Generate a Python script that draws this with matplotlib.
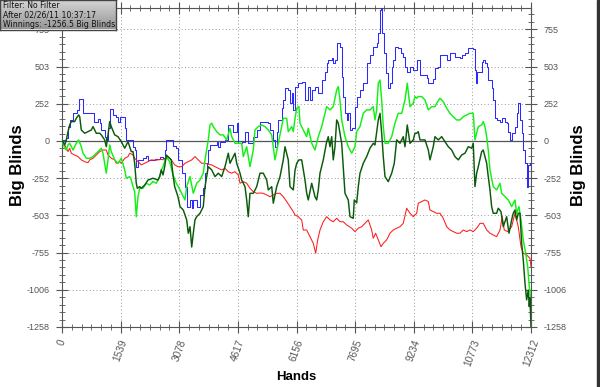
import numpy as np
import matplotlib
matplotlib.use("Agg")
import matplotlib.pyplot as plt
from matplotlib.ticker import FixedLocator, MultipleLocator
from matplotlib.patches import Rectangle

# ---- data (hands, big blinds) ----
blue_h = [0, 26, 113, 158, 202, 289, 381, 420, 446, 525, 551, 683, 814, 840, 945, 990, 1032, 1121, 1163, 1208,
          1252, 1339, 1425, 1470, 1523, 1601, 1646, 1688, 1785, 1864, 1916, 1950, 1995, 2126, 2213, 2258, 2433,
          2565, 2651, 2696, 2738, 2827, 2914, 3000, 3045, 3098, 3142, 3229, 3273, 3360, 3405, 3447, 3536, 3623,
          3709, 3754, 3798, 3840, 3885, 4061, 4103, 4148, 4279, 4365, 4455, 4496, 4586, 4628, 4717, 4804, 4890,
          4980, 5022, 5111, 5198, 5329, 5415, 5460, 5547, 5591, 5636, 5678, 5767, 5809, 5854, 5940, 5985, 6030,
          6072, 6116, 6203, 6292, 6379, 6465, 6510, 6555, 6641, 6728, 6817, 6904, 6948, 6990, 7080, 7121, 7166,
          7211, 7298, 7342, 7384, 7429, 7473, 7515, 7560, 7620, 7691, 7736, 7823, 7909, 7998, 8085, 8171, 8261,
          8303, 8348, 8374, 8408, 8460, 8497, 8565, 8610, 8655, 8697, 8741, 8828, 8899, 8959, 9004, 9048, 9135,
          9221, 9311, 9353, 9398, 9574, 9616, 9746, 9791, 9879, 9923, 10054, 10099, 10185, 10316, 10448, 10492,
          10579, 10665, 10796, 10841, 10868, 10886, 10973, 11017, 11059, 11104, 11148, 11190, 11279, 11321, 11366,
          11410, 11498, 11542, 11629, 11673, 11715, 11760, 11804, 11891, 11936, 11962, 12023, 12067, 12109, 12154,
          12198, 12240, 12285, 12312]
blue_v = [0, 7, 18, 97, 142, 189, 210, 210, 282, 282, 189, 191, 191, 131, 149, 122, 74, 29, 7, 88,
          214, 176, 164, 131, 164, 164, 88, 7, 7, -39, -61, -174, -128, -115, -101, -128, -124,
          -106, -117, -61, 7, 7, -34, -49, -128, -128, -216, -309, -444, -399, -453, -399, -444, -365,
          -318, -216, -149, -61, -27, -5, -39, -5, 7, 108, 108, 63, 120, -16, -5, 63, -16,
          -16, 29, 74, 131, 131, 120, 74, 7, -39, 63, 142, 221, 277, 356, 345, 255, 323,
          210, 367, 390, 401, 277, 367, 277, 345, 367, 323, 412, 469, 525, 548, 559, 525, 548,
          661, 638, 435, 300, 187, 142, 187, 74, 86, 232, 300, 345, 390, 525, 582, 638, 661,
          728, 886, 897, 728, 593, 458, 356, 390, 502, 548, 638, 627, 593, 570, 502, 469, 502,
          480, 548, 548, 446, 426, 390, 417, 492, 502, 582, 582, 548, 593, 566, 559, 582,
          593, 627, 620, 480, 390, 469, 469, 536, 548, 525, 502, 412, 356, 277, 153,
          142, 131, 153, 131, 120, 63, 7, 52, 97, 187, 255, 142, 52, -61, -151,
          -309, -162, -151, -399]

dark_h = [0, 26, 71, 113, 158, 202, 244, 333, 375, 438, 465, 507, 596, 683, 769, 814, 900, 990, 1032, 1121,
          1163, 1208, 1252, 1294, 1383, 1470, 1557, 1646, 1733, 1777, 1819, 1864, 1908, 1950, 1977, 2040, 2082,
          2171, 2258, 2389, 2520, 2565, 2607, 2651, 2696, 2738, 2783, 2869, 2914, 2958, 3045, 3098, 3184, 3273,
          3315, 3360, 3405, 3447, 3491, 3536, 3623, 3709, 3754, 3840, 3930, 4016, 4103, 4192, 4279, 4365, 4410,
          4496, 4541, 4586, 4673, 4717, 4804, 4848, 4890, 4935, 5022, 5111, 5198, 5284, 5374, 5415, 5505, 5547,
          5636, 5723, 5809, 5854, 5940, 5985, 6072, 6116, 6161, 6221, 6292, 6379, 6423, 6465, 6555, 6641, 6686,
          6728, 6773, 6859, 6948, 6990, 7035, 7080, 7121, 7166, 7211, 7253, 7342, 7384, 7429, 7515, 7560, 7646,
          7673, 7736, 7778, 7823, 7909, 7998, 8085, 8171, 8216, 8303, 8348, 8392, 8434, 8479, 8565, 8655, 8723,
          8786, 8873, 8959, 9004, 9064, 9135, 9221, 9266, 9311, 9353, 9398, 9529, 9616, 9660, 9746, 9791, 9879,
          9967, 10054, 10141, 10230, 10316, 10403, 10492, 10579, 10665, 10755, 10796, 10841, 10886, 10928, 11017,
          11059, 11104, 11148, 11190, 11235, 11279, 11321, 11410, 11452, 11524, 11584, 11673, 11734, 11804, 11846,
          11891, 11936, 11978, 12023, 12067, 12109, 12154, 12198, 12240, 12267, 12285, 12312]
dark_v = [0, -5, -27, 7, 63, 108, 131, 131, 153, 176, 164, 74, 52, 63, 74, 97, 52, 52, 41, 7,
          -39, 41, 131, 97, 41, 29, -5, -49, -5, -39, -72, -72, -151, -286, -320, -309, -320,
          -298, -264, -252, -264, -241, -196, -230, -174, -95, -106, -128, -230, -309, -377, -444, -467, -534,
          -624, -580, -717, -624, -534, -512, -489, -444, -309, -174, -196, -241, -218, -241, -174, -83, -151,
          -106, -83, -151, -218, -264, -309, -399, -512, -354, -354, -309, -218, -218, -264, -331, -309, -421,
          -309, -241, -128, -39, -128, -309, -331, -200, -151, -128, -128, -264, -352, -399, -286, -377, -399,
          -331, -218, -128, -5, 29, -39, 29, -128, -39, 142, 120, -16, -174, -354, -399, -512, -523,
          -399, -419, -309, -218, -151, -106, -49, -16, -27, 142, 187, 52, -106, -241, -275, -218, -151,
          7, -16, 29, -39, 108, -16, 7, 52, 52, 63, 7, 7, -61, -128, -39, 29, 7,
          29, -5, -39, -61, -106, -128, -95, -83, -39, -49, -16, -309, -218, -174, -72,
          -61, -106, -151, -241, -331, -444, -489, -489, -455, -478, -580, -512, -624, -534, -489,
          -467, -534, -489, -489, -692, -805, -962, -1075, -1008, -1120, -1060, -1256.5]

lime_h = [0, 26, 71, 113, 158, 202, 289, 375, 438, 507, 551, 638, 727, 814, 900, 990, 1032, 1076, 1121, 1163,
          1208, 1252, 1294, 1383, 1470, 1557, 1646, 1688, 1777, 1819, 1864, 1908, 1950, 1995, 2040, 2126, 2213,
          2302, 2389, 2475, 2565, 2607, 2651, 2738, 2827, 2914, 3000, 3053, 3142, 3229, 3273, 3360, 3447, 3536,
          3623, 3709, 3754, 3798, 3840, 3885, 3930, 3972, 4061, 4148, 4234, 4323, 4410, 4455, 4541, 4628, 4717,
          4759, 4848, 4935, 5022, 5066, 5153, 5242, 5329, 5415, 5505, 5547, 5591, 5678, 5767, 5809, 5899, 5940,
          6030, 6072, 6116, 6161, 6221, 6248, 6334, 6423, 6465, 6555, 6641, 6728, 6817, 6904, 6948, 7035, 7121,
          7211, 7253, 7298, 7342, 7429, 7515, 7605, 7691, 7736, 7823, 7909, 7998, 8085, 8171, 8216, 8261, 8303,
          8348, 8392, 8434, 8479, 8565, 8655, 8741, 8828, 8917, 9004, 9064, 9135, 9221, 9266, 9311, 9353, 9442,
          9529, 9616, 9705, 9791, 9836, 9923, 10009, 10099, 10185, 10271, 10361, 10448, 10534, 10624, 10710,
          10796, 10841, 10886, 10928, 11017, 11059, 11104, 11148, 11190, 11235, 11321, 11410, 11498, 11542, 11629,
          11715, 11804, 11891, 11936, 11996, 12049, 12109, 12172, 12225, 12267, 12312]
lime_v = [0, -16, -49, -61, -27, -16, -61, -16, 7, -39, -83, -117, -117, -106, -83, -61, -49, -83, -151, -218,
          -128, -27, -72, -128, -151, -117, -196, -252, -241, -264, -309, -343, -512, -377, -320, -320, -286,
          -298, -275, -286, -241, -196, -174, -106, -140, -230, -286, -309, -354, -399, -309, -241, -354, -286,
          -264, -218, -128, -61, 7, 108, 120, 97, 63, 41, 41, 7, 86, 29, -16, -16, -16,
          -106, -39, -174, -61, 74, 97, 108, 97, 74, 41, -39, -128, -16, 97, 153, 153, 63,
          97, 63, 150, 221, 232, 120, 74, 29, 86, -16, -61, 29, 97, 187, 232, 210, 232,
          345, 367, 277, 142, 29, -39, -83, -39, 63, 97, 187, 210, 210, 232, 142, 210, 390,
          412, 277, 97, -16, -16, 29, 120, 187, 187, 277, 390, 232, 255, 300, 289, 300, 300,
          277, 210, 232, 232, 255, 289, 266, 221, 187, 164, 142, 142, 164, 176, 187,
          187, 7, 52, 97, 108, 131, 97, 29, -61, -196, -309, -331, -286, -354, -377,
          -399, -444, -399, -489, -444, -534, -669, -759, -850, -985, -1075]

red_h = [0, 26, 71, 113, 158, 202, 244, 333, 420, 507, 596, 683, 727, 814, 900, 990, 1076, 1163, 1208, 1294,
         1383, 1425, 1515, 1557, 1646, 1733, 1777, 1864, 1908, 1995, 2082, 2171, 2258, 2344, 2433, 2520, 2607,
         2696, 2783, 2869, 2958, 3045, 3142, 3229, 3315, 3405, 3491, 3578, 3667, 3754, 3840, 3930, 4016, 4103,
         4192, 4279, 4365, 4455, 4541, 4628, 4673, 4759, 4848, 4935, 5022, 5111, 5198, 5284, 5374, 5460, 5547,
         5636, 5723, 5809, 5899, 5985, 6072, 6116, 6203, 6292, 6334, 6423, 6510, 6596, 6660, 6712, 6773, 6859,
         6948, 7035, 7121, 7211, 7298, 7384, 7473, 7605, 7691, 7778, 7867, 7954, 8040, 8129, 8171, 8234, 8303,
         8374, 8434, 8523, 8610, 8697, 8786, 8873, 8959, 9048, 9135, 9221, 9311, 9353, 9442, 9529, 9616, 9660,
         9746, 9836, 9923, 10009, 10099, 10185, 10271, 10361, 10448, 10534, 10624, 10710, 10796, 10886, 10973,
         11059, 11148, 11235, 11321, 11410, 11498, 11558, 11610, 11699, 11804, 11891, 11978, 12049, 12109, 12198,
         12285, 12312]
red_v = [0, -5, -27, -49, -72, -49, -83, -95, -106, -128, -140, -147, -128, -117, -95, -72, -61, -61, -95, -117,
         -128, -151, -140, -151, -117, -106, -83, -95, -117, -140, -162, -151, -140, -128, -130, -128, -125,
         -128, -106, -128, -162, -174, -174, -151, -140, -128, -106, -128, -151, -151, -158, -162, -174, -185,
         -196, -185, -208, -218, -208, -230, -286, -275, -286, -320, -343, -354, -352, -354, -365, -377, -365,
         -354, -354, -377, -410, -444, -478, -500, -512, -534, -602, -602, -647, -692, -759, -669, -602, -546,
         -512, -534, -546, -523, -546, -546, -568, -590, -613, -590, -580, -557, -534, -602, -658, -624, -669,
         -715, -692, -669, -624, -602, -590, -580, -557, -455, -489, -512, -489, -421, -410, -399, -410, -467,
         -478, -489, -489, -523, -580, -602, -613, -624, -624, -602, -613, -602, -613, -590, -557,
         -557, -602, -624, -636, -647, -602, -512, -602, -613, -580, -489, -580, -715, -759, -771,
         -793, -850]

x_ticks = [0, 1539, 3078, 4617, 6156, 7695, 9234, 10773, 12312]
y_ticks = [-1258, -1006.4, -754.8, -503.2, -251.6, 0, 251.6, 503.2, 754.8]
y_labels = ["-1258", "-1006", "-755", "-503", "-252", "0", "252", "503", "755"]
info_lines = ["Filter: No Filter", "After 02/26/11 10:37:17", "Winnings: -1256.5 Big Blinds"]

W, H = 600, 387
fig = plt.figure(figsize=(6, 3.87), dpi=100)
fig.patch.set_facecolor("white")
ax = fig.add_axes([62 / W, 1 - 327 / H, 469 / W, 319 / H])

ax.plot(blue_h, blue_v, color="#2a2aff", lw=0.75, drawstyle="steps-post", zorder=3)
ax.plot(red_h, red_v, color="#ff1a1a", lw=0.75, zorder=3)
ax.plot(lime_h, lime_v, color="#14f014", lw=1.05, zorder=4)
ax.plot(dark_h, dark_v, color="#0b5a0b", lw=1.05, zorder=5)
ax.axhline(0, color="#555555", lw=0.9, zorder=2)

ax.set_xlim(0, 12312)
ax.set_ylim(-1258, 899)

gray = "#555555"
ax.xaxis.set_major_locator(FixedLocator(x_ticks))
ax.xaxis.set_minor_locator(MultipleLocator(1539 / 6))
ax.yaxis.set_major_locator(FixedLocator(y_ticks))
ax.yaxis.set_minor_locator(MultipleLocator(251.6 / 5))
ax.set_xticklabels([str(t) for t in x_ticks], rotation=70, ha="center", va="top",
                   fontsize=7.2, color=gray, family="Liberation Sans")
ax.set_yticklabels(y_labels, fontsize=6.5, color=gray, family="Liberation Sans")
ax.tick_params(which="both", direction="inout", colors=gray, top=True, right=True,
               labelright=True, labeltop=False)
ax.tick_params(which="major", length=8, width=0.8, pad=5)
ax.tick_params(which="minor", length=5, width=0.6)
ax.tick_params(axis="x", which="major", pad=4)
for s in ax.spines.values():
    s.set_color(gray)
    s.set_linewidth(0.8)

ax.grid(True, which="major", color="#999999", ls=(0, (1, 2.5)), lw=0.7)
ax.set_axisbelow(True)

ax.set_xlabel("Hands", fontsize=9.5, fontweight="bold", family="Liberation Sans")
ax.xaxis.set_label_coords(0.5, -(371 - 327) / 319)
ax.set_ylabel("Big Blinds", fontsize=12, fontweight="bold", family="Liberation Sans")
ax.yaxis.set_label_coords(-(62 - 25) / 469, (327 - 165) / 319)
fig.text(578 / W, 1 - 165 / H, "Big Blinds", rotation=90, fontsize=12, fontweight="bold",
         family="Liberation Sans", ha="center", va="center")

# info box with gradient
bx = fig.add_axes([0, 1 - 29.5 / H, 116 / W, 29.5 / H])
grad = np.linspace(0, 1, 64).reshape(-1, 1)
bx.imshow(grad, cmap=matplotlib.colors.LinearSegmentedColormap.from_list("g", ["#d6d6d6", "#979797"]),
          aspect="auto", extent=[0, 1, 1, 0])
bx.set_xlim(0, 1)
bx.set_ylim(1, 0)
bx.set_xticks([])
bx.set_yticks([])
for s in bx.spines.values():
    s.set_color("#444444")
    s.set_linewidth(1.0)
for i, t in enumerate(info_lines):
    bx.text(3 / 116, (i + 0.52) / 3, t, fontsize=5.6, color="#111111", va="center", ha="left",
            family="DejaVu Sans")

# dark window edge on the right
fig.patches.append(Rectangle((597 / W, 0), 3 / W, 1, transform=fig.transFigure,
                             color="#333333", zorder=10))

fig.savefig("out.png", dpi=100)
